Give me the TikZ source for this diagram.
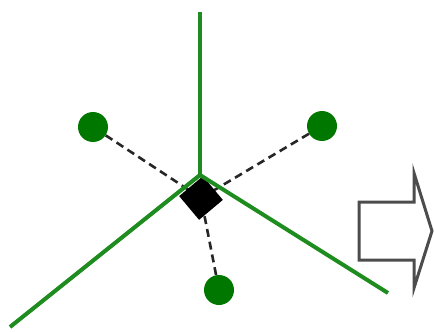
\documentclass[tikz,border=0pt]{standalone}
\usetikzlibrary{shapes.geometric,shapes.arrows}
\definecolor{lg}{RGB}{30,140,30}
\definecolor{dg}{RGB}{0,120,0}
\begin{document}
\begin{tikzpicture}[x=1pt,y=-1pt,
  gline/.style={draw=lg,line width=4pt},
  dline/.style={draw=black!85,line width=2.6pt,dash pattern=on 8pt off 5pt},
  dot/.style={circle,fill=dg,inner sep=0pt,minimum size=30pt},
  dia/.style={diamond,fill=black,inner sep=0pt,minimum size=44pt,rotate=-5}]
\useasboundingbox (0,0) rectangle (434,332);
\coordinate (top) at (200,12);
\coordinate (hub) at (200,175);
\coordinate (le) at (10,327);
\coordinate (re) at (388,293);
\node[dot] (d1) at (93,127) {};
\node[dot] (d2) at (322,126) {};
\node[dot] (d3) at (219,290) {};
\coordinate (c) at (201,198);
\draw[dline] (d1) -- (c);
\draw[dline] (d2) -- (c);
\draw[dline] (d3) -- (c);
\node[dia] (dm) at (c) {};
\draw[gline] (top) -- (hub);
\draw[gline] (hub) -- (le);
\draw[gline] (hub) -- (re);
\draw[black!70,line width=3pt,line join=miter] (359,202) -- (414,202) -- (414,173) -- (432,231) -- (414,288) -- (414,260) -- (359,260) -- cycle;
\end{tikzpicture}
\end{document}
